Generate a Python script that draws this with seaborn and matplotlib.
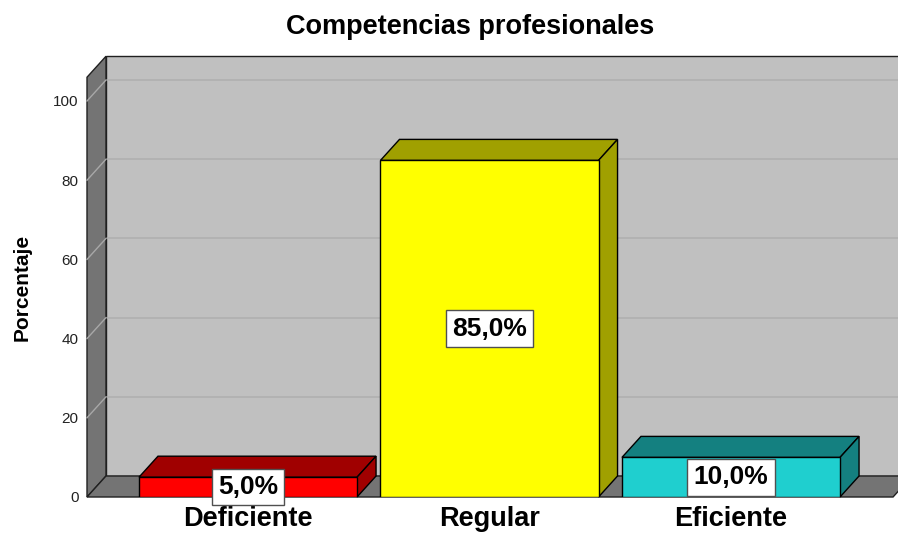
import matplotlib
matplotlib.use("Agg")
import matplotlib.pyplot as plt
from matplotlib.patches import Polygon, Rectangle
import seaborn as sns
import pandas as pd

# ---- data ----
categories = ["Deficiente", "Regular", "Eficiente"]
percentages = [5.0, 85.0, 10.0]
front_colors = ["#ff0000", "#ffff00", "#1fcfcf"]
shade_colors = ["#a00000", "#a0a000", "#148080"]
y_ticks = [0, 20, 40, 60, 80, 100]
title = "Competencias profesionales"
y_label = "Porcentaje"

plt.rcParams["font.family"] = ["Liberation Sans", "DejaVu Sans"]

W, H = 898, 534
fig = plt.figure(figsize=(W / 100, H / 100), dpi=100)
fig.patch.set_facecolor("white")

# axes: left edge at px 87, bottom at px 497
ax_left, ax_bottom_px = 87, 497
xmin, xmax = -0.6667, 2.6915
ymin, ymax = 0, 106
py_per_unit = 3.96
ax_h_px = (ymax - ymin) * py_per_unit
ax = fig.add_axes([ax_left / W, (H - ax_bottom_px) / H, (W - ax_left) / W, ax_h_px / H])

df = pd.DataFrame({"cat": categories, "pct": percentages})
sns.barplot(data=df, x="cat", y="pct", hue="cat", palette=front_colors,
            saturation=1, width=0.903, edgecolor="black", linewidth=1, legend=False,
            ax=ax, zorder=3)
bars = sorted([p for p in ax.patches if isinstance(p, Rectangle) and p.get_height() > 0],
              key=lambda r: r.get_x())

ax.set_xlim(xmin, xmax)
ax.set_ylim(ymin, ymax)

# depth offsets (px -> data)
px_per_x = (W - ax_left) / (xmax - xmin)
dx = 19 / px_per_x
dy = 21 / py_per_unit

wall_grey = "#c0c0c0"
dark_grey = "#747474"
floor_right = 2.671

# back wall
ax.add_patch(Polygon([(xmin + dx, dy), (xmin + dx, ymax + dy), (xmax + 1, ymax + dy), (xmax + 1, dy)],
                     closed=True, facecolor=wall_grey, edgecolor="#202020", lw=1,
                     zorder=0.2, clip_on=False))
# left wall
ax.add_patch(Polygon([(xmin, 0), (xmin, ymax), (xmin + dx, ymax + dy), (xmin + dx, dy)],
                     closed=True, facecolor=dark_grey, edgecolor="#202020", lw=1,
                     zorder=0.3, clip_on=False))
# floor
ax.add_patch(Polygon([(xmin, 0), (floor_right, 0), (floor_right + dx, dy), (xmin + dx, dy)],
                     closed=True, facecolor=dark_grey, edgecolor="#202020", lw=1,
                     zorder=0.3, clip_on=False))

# gridlines
for t in y_ticks[1:]:
    ax.plot([xmin + dx, xmax + 1], [t + dy, t + dy], color="#b0b0b0", lw=1.2,
            zorder=0.25, clip_on=False)
    ax.plot([xmin, xmin + dx], [t, t + dy], color="#a8a8a8", lw=1,
            zorder=0.35, clip_on=False)

# 3D tops and sides of bars, plus value labels
for p, shade, val in zip(bars, shade_colors, percentages):
    x0, w, h = p.get_x(), p.get_width(), p.get_height()
    top = Polygon([(x0, h), (x0 + dx, h + dy), (x0 + w + dx, h + dy), (x0 + w, h)],
                  closed=True, facecolor=shade, edgecolor="black", lw=1, zorder=2,
                  clip_on=False)
    side = Polygon([(x0 + w, 0), (x0 + w, h), (x0 + w + dx, h + dy), (x0 + w + dx, dy)],
                   closed=True, facecolor=shade, edgecolor="black", lw=1, zorder=2,
                   clip_on=False)
    ax.add_patch(top)
    ax.add_patch(side)
    ax.text(x0 + w / 2, h / 2, f"{val:.1f}%".replace(".", ","), ha="center", va="center",
            fontsize=19, fontweight="bold", color="black", zorder=6,
            bbox=dict(boxstyle="square,pad=0.24", facecolor="white", edgecolor="#505050", lw=1))

for s in ax.spines.values():
    s.set_visible(False)
ax.set_facecolor("none")
ax.set_yticks(y_ticks)
ax.set_yticklabels([str(t) for t in y_ticks], fontsize=11, color="#222222")
ax.set_xticks(range(len(categories)))
ax.set_xticklabels(categories, fontsize=19.5, fontweight="bold")
ax.tick_params(axis="y", length=0, pad=6)
ax.tick_params(axis="x", length=0, pad=6.5)
ax.set_xlabel("")
ax.set_ylabel(y_label, fontsize=15, fontweight="bold")
ax.yaxis.set_label_coords(-0.068, 0.5)

fig.text(470 / W, 1 - 34 / H, title, ha="center", va="baseline",
         fontsize=19.5, fontweight="bold")

fig.savefig("out.png", dpi=100)
